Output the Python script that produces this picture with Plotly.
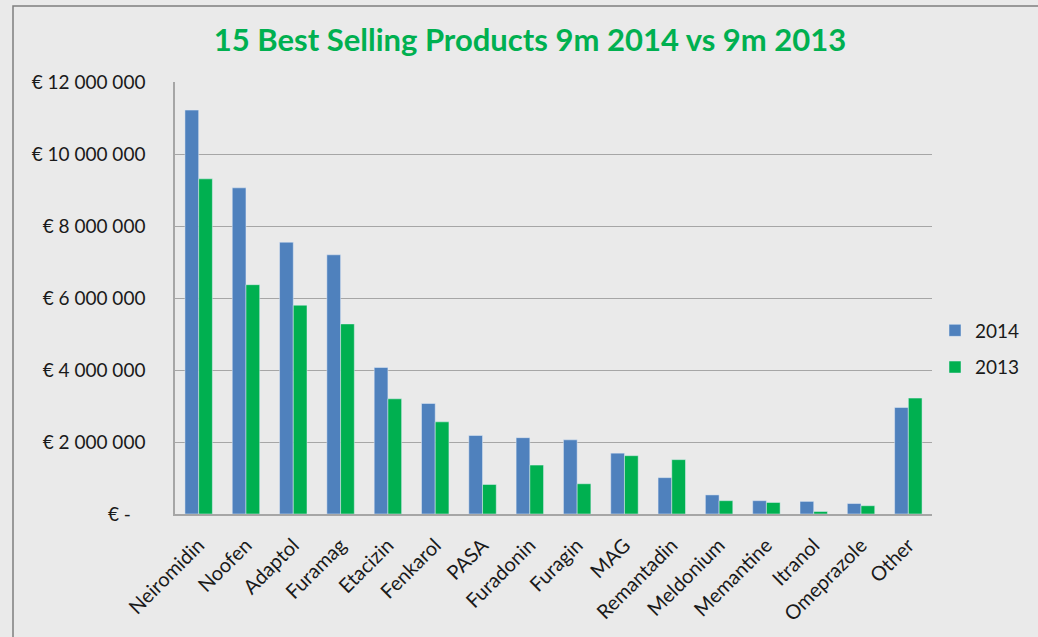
import plotly.graph_objects as go

categories = ["Neiromidin", "Noofen", "Adaptol", "Furamag", "Etacizin", "Fenkarol", "PASA",
              "Furadonin", "Furagin", "MAG", "Remantadin", "Meldonium", "Memantine",
              "Itranol", "Omeprazole", "Other"]
sales_2014 = [11220000, 9060000, 7550000, 7200000, 4070000, 3070000, 2180000,
              2120000, 2060000, 1690000, 1010000, 530000, 370000, 350000, 290000, 2960000]
sales_2013 = [9310000, 6370000, 5800000, 5280000, 3200000, 2560000, 820000,
              1360000, 840000, 1620000, 1510000, 370000, 320000, 70000, 230000, 3220000]
tick_vals = [0, 2000000, 4000000, 6000000, 8000000, 10000000, 12000000]
tick_text = ["€ -\u00a0\u00a0\u00a0", "€ 2 000 000", "€ 4 000 000", "€ 6 000 000",
             "€ 8 000 000", "€ 10 000 000", "€ 12 000 000"]

FONT = "Lato, 'Open Sans', sans-serif"
W, H = 1038, 637
L, R, T, B = 175, 932, 82, 514
pw, ph = R - L, B - T

def px(x):
    return (x - L) / pw

def py(y):
    return (B - y) / ph

fig = go.Figure()
fig.add_trace(go.Bar(x=categories, y=sales_2014, name="2014", marker_color="#4f81bd",
                     legendgroup="a"))
fig.add_trace(go.Bar(x=categories, y=sales_2013, name="2013", marker_color="#00b050",
                     legendgroup="b"))

fig.update_layout(
    width=W, height=H,
    margin=dict(l=L, r=W - R, t=T, b=H - B, autoexpand=False),
    paper_bgcolor="#eaeaea",
    plot_bgcolor="rgba(0,0,0,0)",
    barmode="group",
    bargap=0.42,
    bargroupgap=0,
    font=dict(family=FONT, size=19, color="#1a1a1a"),
    title=dict(text="<b>15 Best Selling Products 9m 2014 vs 9m 2013</b>",
               font=dict(family=FONT, size=31, color="#00b050"),
               x=530 / W, xref="container", xanchor="center",
               y=1 - 40 / H, yref="container", yanchor="middle"),
    legend=dict(x=px(935), y=py(349), xanchor="left", yanchor="middle",
                bgcolor="rgba(0,0,0,0)", font=dict(size=19), tracegroupgap=9,
                itemwidth=30),
    showlegend=True,
)
fig.update_xaxes(tickangle=-45, showgrid=False, showline=True, linecolor="#a6a6a6",
                 linewidth=1.5, ticks="", tickfont=dict(size=20), ticklabelstandoff=10)
fig.update_yaxes(range=[0, 12000000], tickvals=tick_vals, ticktext=tick_text,
                 showgrid=True, gridcolor="#a6a6a6", gridwidth=1.2,
                 showline=True, linecolor="#a6a6a6", linewidth=1.5,
                 ticks="", ticklabelstandoff=24, tickfont=dict(size=19), zeroline=False)

fig.add_shape(type="path", xref="paper", yref="paper",
              path=f"M {px(13)} {py(H + 5)} L {px(13)} {py(6)} L {px(W + 5)} {py(6)}",
              line=dict(color="#7f7f7f", width=1.5))

fig.write_html("out.html", config={"displayModeBar": False},
               post_script="document.body.style.margin='0';document.body.style.overflow='hidden';")
